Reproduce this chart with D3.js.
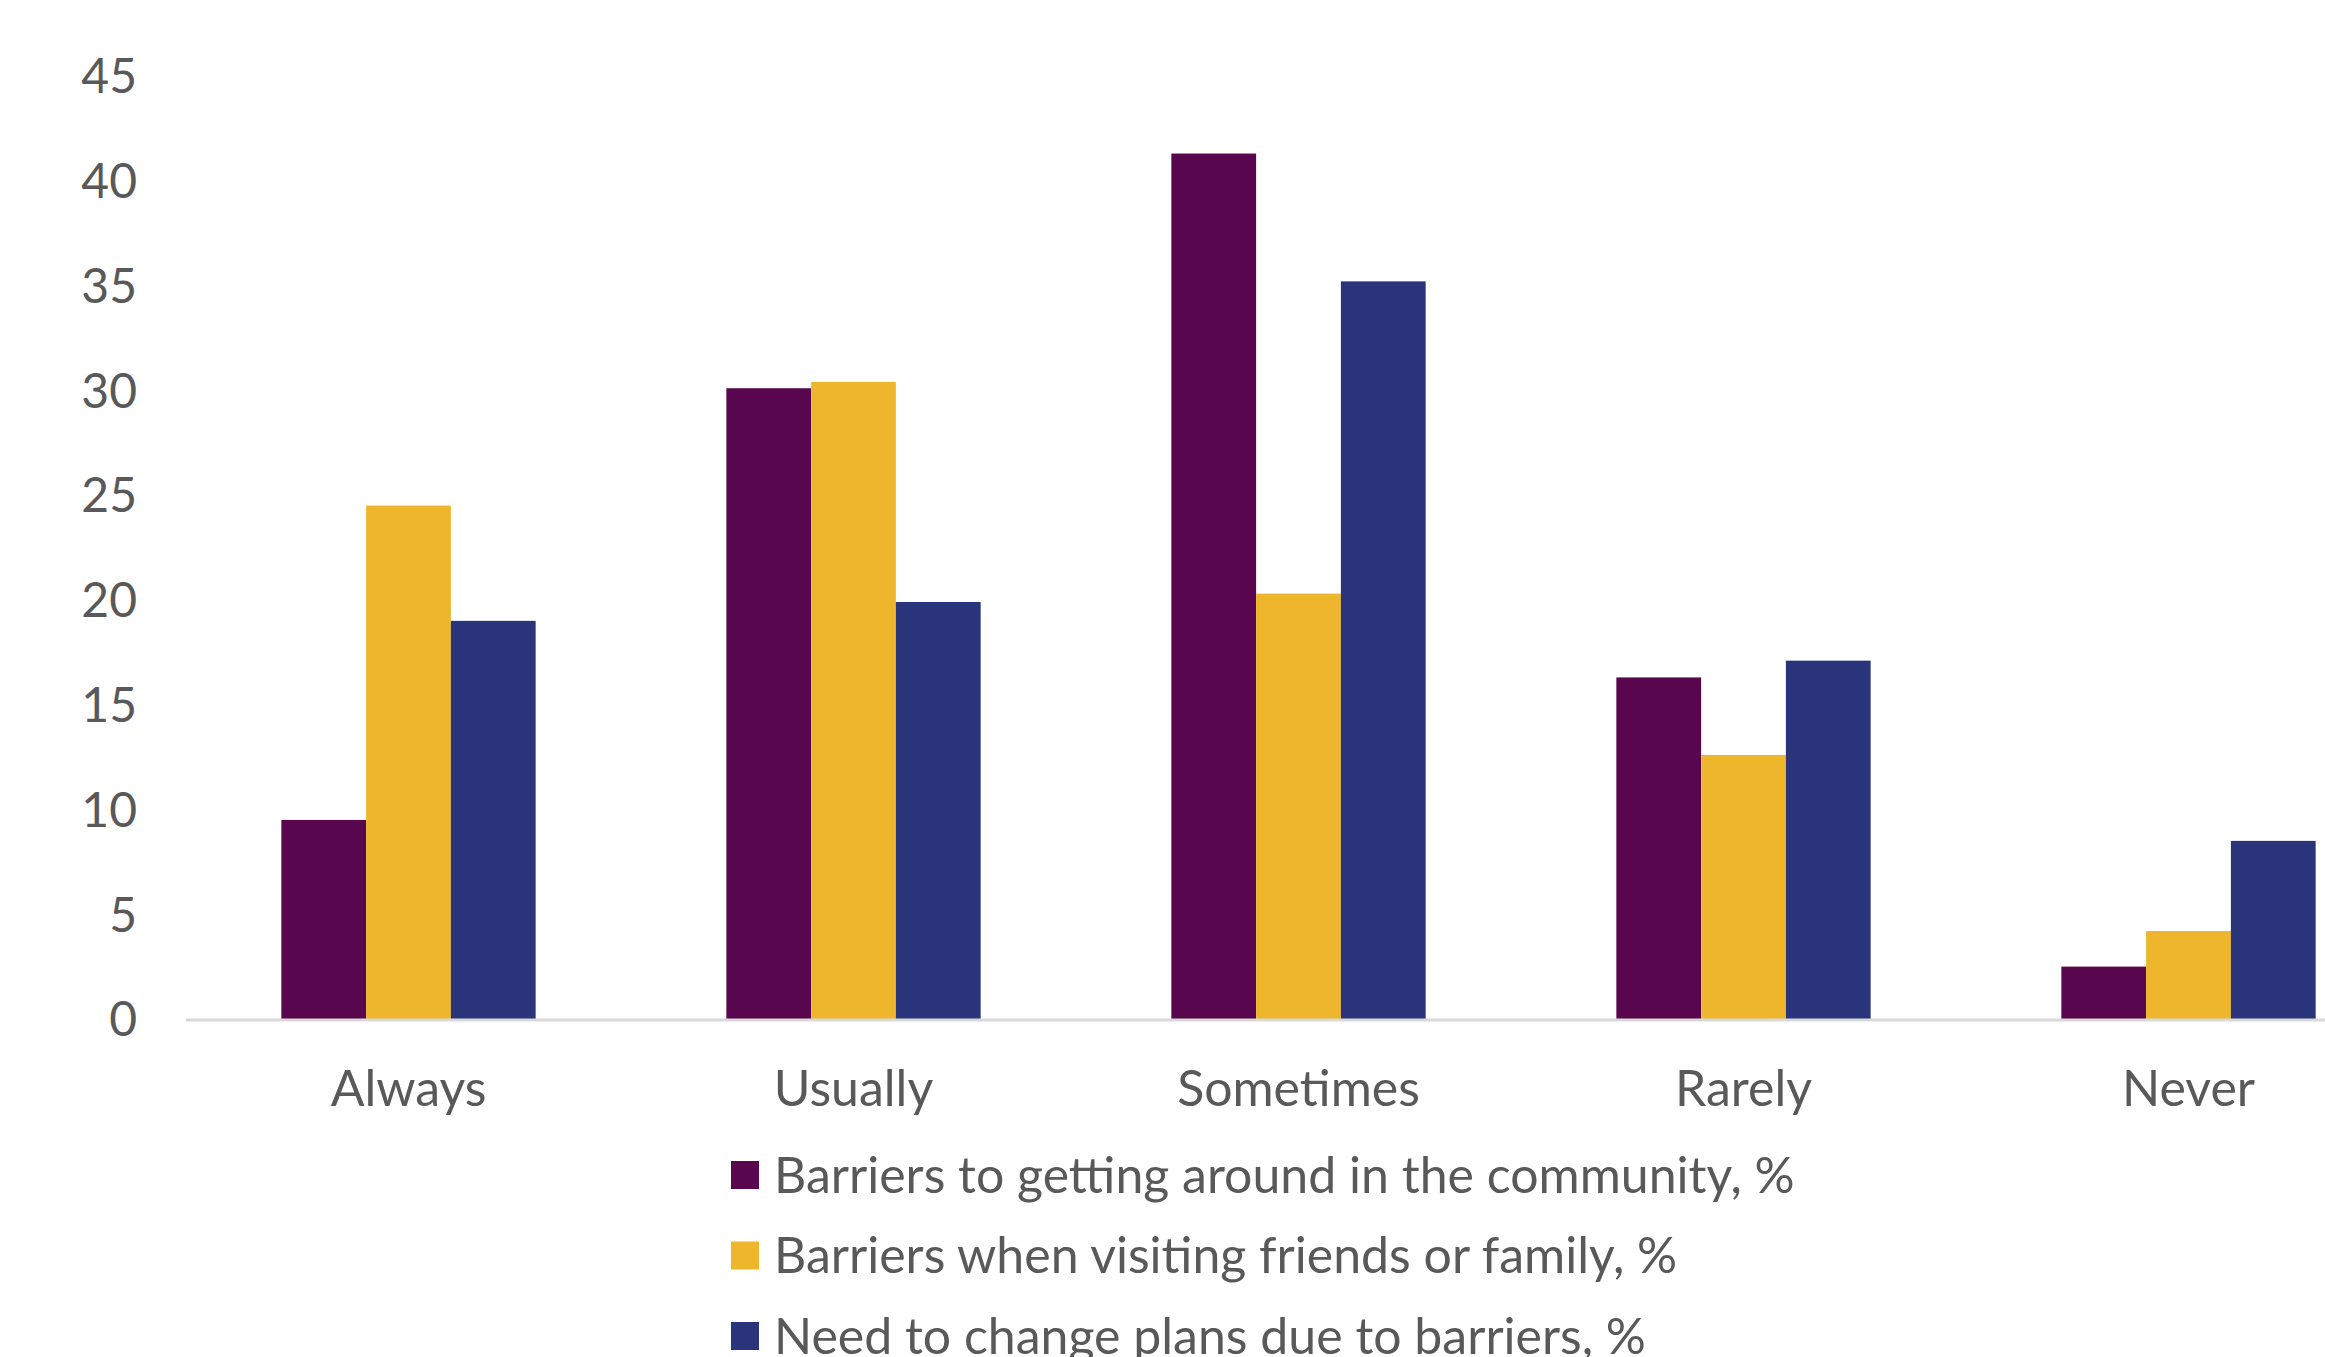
<!DOCTYPE html>
<html>
<head>
<meta charset="utf-8">
<script src="https://cdn.jsdelivr.net/npm/d3@7"></script>
<style>
  body { margin: 0; background: #fff; }
  svg { display: block; }
  text { font-family: Lato, "Open Sans", sans-serif; fill: #595959; }
</style>
</head>
<body>
<div id="canvas"></div>
<script>
var categories = ["Always", "Usually", "Sometimes", "Rarely", "Never"];
var seriesNames = [
    "Barriers to getting around in the community, %",
    "Barriers when visiting friends or family, %",
    "Need to change plans due to barriers, %"
];
var community = [9.5, 30.1, 41.3, 16.3, 2.5];
var friends   = [24.5, 30.4, 20.3, 12.6, 4.2];
var plans     = [19.0, 19.9, 35.2, 17.1, 8.5];
var yTicks    = [0, 5, 10, 15, 20, 25, 30, 35, 40, 45];
var colors    = ["#58064d", "#edb62d", "#2a347b"];

var Chart = (function() {
    var that = { svg : null, w : 2325, h : 1357, fontSize : 50 };

    that.init = function() {
        that.svg = d3.select("#canvas").append("svg")
            .attr("width", that.w).attr("height", that.h);
    };

    that.draw = function() {
        var series = [community, friends, plans];

        // plot runs past the right edge, like the original crop
        var x = d3.scaleBand().domain(categories).range([186, 2411])
            .paddingInner(0.75 / 1.75).paddingOuter(0.375 / 1.75);
        var xs = d3.scaleBand().domain(d3.range(series.length)).range([0, x.bandwidth()]);
        var y = d3.scaleLinear().domain([0, 45]).range([1019, 76]);

        // bars
        var groups = that.svg.append("g").attr("name", "bars")
            .selectAll("g").data(categories).enter().append("g")
            .attr("transform", d => "translate(" + x(d) + ",0)");
        groups.selectAll("rect")
            .data((c, i) => series.map((s, k) => ({ k : k, v : s[i] })))
            .enter().append("rect")
            .attr("x", d => xs(d.k))
            .attr("width", xs.bandwidth())
            .attr("y", d => y(d.v))
            .attr("height", d => y(0) - y(d.v))
            .style("fill", d => colors[d.k]);

        // baseline
        that.svg.append("line")
            .attr("x1", 186).attr("x2", 2411)
            .attr("y1", y(0) + 1).attr("y2", y(0) + 1)
            .attr("stroke", "#d9d9d9").attr("stroke-width", 3);

        // y axis labels
        var yAxis = d3.axisLeft(y).tickValues(yTicks).tickSize(0).tickPadding(0);
        var gy = that.svg.append("g").attr("transform", "translate(137,0)").call(yAxis);
        gy.select(".domain").remove();
        gy.selectAll("text")
            .attr("dy", "0.35em")
            .style("font-family", "Lato, 'Open Sans', sans-serif")
            .style("font-size", "48px")
            .style("fill", "#595959");

        // x axis labels
        var xAxis = d3.axisBottom(x).tickSize(0).tickPadding(0);
        var gx = that.svg.append("g").attr("transform", "translate(0,1088)").call(xAxis);
        gx.select(".domain").remove();
        gx.selectAll("text")
            .attr("y", 0).attr("dy", "0.35em")
            .style("font-family", "Lato, 'Open Sans', sans-serif")
            .style("font-size", that.fontSize + "px")
            .style("fill", "#595959");

        // legend (last entry runs off the bottom, as in the source)
        var legend = that.svg.append("g").attr("name", "legend")
            .selectAll("g").data(seriesNames).enter().append("g")
            .attr("transform", (d, i) => "translate(731," + (1175 + i * 80.5) + ")");
        legend.append("rect")
            .attr("x", 0).attr("y", -14).attr("width", 28).attr("height", 28)
            .style("fill", (d, i) => colors[i]);
        legend.append("text")
            .attr("x", 43).attr("y", 0).attr("dy", "0.35em")
            .style("font-size", that.fontSize + "px")
            .text(d => d);
    };

    return that;
})();

Chart.init();
Chart.draw();
</script>
</body>
</html>
